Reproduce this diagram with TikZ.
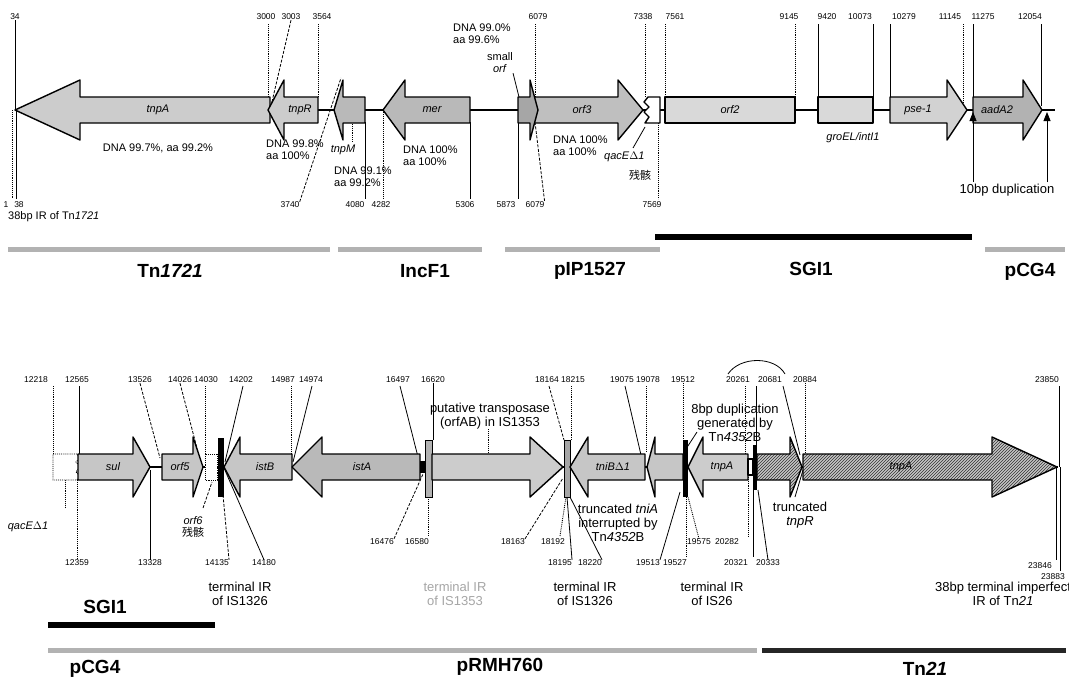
\documentclass[tikz,border=0pt]{standalone}
\usepackage{fontspec}
\setmainfont{Liberation Sans}
\newfontfamily\cjk{Noto Sans CJK SC}
\usetikzlibrary{patterns,arrows.meta}
\newcommand{\garrow}[5]{\draw[gene,#5] (#1,#4-13) -- (#2,#4-13) -- (#2,#4-30) -- (#3,#4) -- (#2,#4+30) -- (#2,#4+13) -- (#1,#4+13) -- cycle;}
\tikzset{
 num/.style={font=\fontsize{8.5}{9}\selectfont, inner sep=0pt},
 lbl/.style={font=\fontsize{11}{12}\selectfont, inner sep=0pt, align=left},
 gl/.style={font=\fontsize{11}{12}\selectfont\itshape, inner sep=0pt},
 mid/.style={font=\fontsize{13}{14}\selectfont, inner sep=0pt, align=center},
 big/.style={font=\fontsize{19}{21}\selectfont\bfseries, inner sep=0pt},
 gene/.style={draw=black, line width=1.4pt, line join=round},
 bb/.style={line width=2.5pt},
 sl/.style={line width=0.8pt},
 dl/.style={line width=0.9pt, densely dotted},
 dsh/.style={line width=0.8pt, dash pattern=on 3pt off 1.5pt},
 gbar/.style={line width=5pt, gray!60},
 tnpat/.style={preaction={fill=gray!45}, pattern=north east lines, pattern color=black!80},
}
\begin{document}
\begin{tikzpicture}[x=1pt,y=-1pt]
\useasboundingbox[fill=white] (0,0) rectangle (1069,680);

% ================= TOP ROW =================
\foreach \x/\t in {15/34, 266/3000, 291/3003, 322/3564, 538/6079, 643/7338, 675/7561, 789/9145, 827/9420, 860/10073, 904/10279, 950/11145, 983/11275, 1030/12054}
  \node[num] (t\t) at (\x,17) {\t};

\draw[sl] (t34.south) -- (15,110);
\draw[dl] (268,24) -- (268,98);
\draw[dsh] (t3003.south) -- (271,106);
\draw[dl] (318,24) -- (318,98);
\draw[dl] (535,24) -- (535,98);
\draw[dl] (645,24) -- (645,97);
\draw[dl] (665,24) -- (665,97);
\draw[dl] (795,24) -- (795,97);
\draw[sl] (818,24) -- (818,97);
\draw[sl] (873,24) -- (873,97);
\draw[sl] (890,24) -- (890,98);
\draw[dl] (963,24) -- (963,106);
\draw[sl] (973,24) -- (973,98);
\draw[sl] (1041,24) -- (1041,106);

% bottom numbers of top row
\node[num] (b1) at (6,205) {1};
\node[num] (b38) at (19,205) {38};
\node[num] (b3740) at (290,205) {3740};
\node[num] (b4080) at (355,205) {4080};
\node[num] (b4282) at (381,205) {4282};
\node[num] (b5306) at (465,205) {5306};
\node[num] (b5873) at (506,205) {5873};
\node[num] (b6079) at (535,205) {6079};
\node[num] (b7569) at (652,205) {7569};

\draw[dl] (12,110) -- (12,199);
\draw[sl] (16,110) -- (16,199);
\draw[dsh] (b3740.north east) -- (341,78);
\draw[sl] (365,122) -- (365,199);
\draw[dl] (383,112) -- (383,199);
\draw[sl] (470,122) -- (470,199);
\draw[sl] (518,122) -- (518,199);
\draw[dsh] (535,122) -- (b6079.north east);
\draw[dl] (658,123) -- (658,199);
\draw[dl] (352,122) -- (352,142);

% backbone and genes
\draw[bb] (15,110) -- (1055,110);
\garrow{270}{80}{15}{110}{fill=gray!40}
\garrow{318}{284}{268}{110}{fill=gray!40}
\garrow{365}{343}{334}{110}{fill=gray!55}
\garrow{470}{405}{383}{110}{fill=gray!55}
\garrow{532}{618}{643}{110}{fill=gray!50}
\garrow{518}{530}{538}{110}{fill=gray!70}
\draw[gene,fill=white] (660,97) -- (648,97) -- (644,102) -- (649,107) -- (644,112) -- (649,117) -- (645,123) -- (660,123) -- cycle;
\draw[gene,fill=gray!30] (665,97) rectangle (795,123);
\draw[gene,fill=gray!30] (818,97) rectangle (873,123);
\garrow{890}{947}{967}{110}{fill=gray!35}
\garrow{973}{1023}{1042}{110}{fill=gray!60}

\node[gl] (gtnpA) at (158,110) {tnpA};
\node[gl] (gtnpR) at (300,110) {tnpR};
\node[gl] (gmer) at (432,110) {mer};
\node[gl] (gorf3) at (582,110) {orf3};
\node[gl] (gorf2) at (730,110) {orf2};
\node[gl] (gpse) at (918,110) {pse-1};
\node[gl] (gaad) at (997,110) {aadA2};

% up arrows for 10bp duplication
\node[mid] (dup10) at (1007,190) {10bp duplication};
\draw[sl,-{Triangle[length=9pt,width=7pt]}] (973,182) -- (973,112);
\draw[sl,-{Triangle[length=9pt,width=7pt]}] (1047,182) -- (1047,112);

% labels top row
\node[lbl, anchor=west] (ir38) at (8,217) {38bp IR of Tn\textit{1721}};
\node[lbl] (d1) at (158,148) {DNA 99.7\%, aa 99.2\%};
\node[lbl, anchor=north west] (d2) at (266,140) {DNA 99.8\%\\aa 100\%};
\node[gl] (gtnpM) at (343,150) {tnpM};
\node[lbl, anchor=north west] (d3) at (334,167) {DNA 99.1\%\\aa 99.2\%};
\node[lbl, anchor=north west] (d4) at (403,146) {DNA 100\%\\aa 100\%};
\node[lbl, anchor=north west] (d5) at (453,24) {DNA 99.0\%\\aa 99.6\%};
\node[lbl, align=center] (sorf) at (500,63) {small\\\textit{orf}};
\draw[sl] (sorf.south east) -- (519,97);
\node[lbl, anchor=north west] (d6) at (553,136) {DNA 100\%\\aa 100\%};
\node[gl, anchor=west] (gqac) at (604,157) {qacE$\Delta$1};
\node[lbl] (rem1) at (640,175) {\cjk 残骸};
\draw[sl] (633,148) -- (645,127);
\node[gl] (ggro) at (853,138) {groEL/intI1};

% top bars
\draw[line width=6pt] (655,237) -- (972,237);
\draw[gbar] (8,249) -- (330,249);
\draw[gbar] (338,249) -- (482,249);
\draw[gbar] (505,249) -- (660,249);
\draw[gbar] (985,249) -- (1065,249);
\node[big] (nTn1721) at (170,271) {Tn\textit{1721}};
\node[big] (nIncF1) at (425,271) {IncF1};
\node[big] (npIP) at (590,271) {pIP1527};
\node[big] (nSGI1a) at (811,269) {SGI1};
\node[big] (npCG4a) at (1030,272) {pCG4};

% ================= BOTTOM ROW =================
\foreach \x/\t in {36/12218, 77/12565, 140/13526, 180/14026, 206/14030, 241/14202, 283/14987, 311/14974, 398/16497, 433/16620, 547/18164, 573/18215, 622/19075, 648/19078, 683/19512, 738/20261, 770/20681, 805/20884, 1047/23850}
  \node[num] (u\t) at (\x,380) {\t};

\draw[sl] (728,374) .. controls (740,356) and (775,356) .. (785,374);

\draw[dl] (53,386) -- (53,455);
\draw[sl] (79,386) -- (79,455);
\draw[dsh] (u13526.south) -- (160,458);
\draw[dsh] (u14026.south) -- (198,452);
\draw[dl] (205,386) -- (205,455);
\draw[sl] (243,386) -- (225,462);
\draw[dl] (291,386) -- (291,455);
\draw[sl] (312,386) -- (293,462);
\draw[sl] (400,386) -- (418,457);
\draw[sl] (u16620.south) -- (433,440);
\draw[dsh] (549,386) -- (564,440);
\draw[dl] (571,386) -- (571,440);
\draw[sl] (625,386) -- (641,455);
\draw[dl] (646,386) -- (646,452);
\draw[dl] (u19512.south) -- (683,440);
\draw[dl] (745,386) -- (745,455);
\draw[sl] (756,386) -- (756,445);
\draw[sl] (783,386) -- (800,455);
\draw[dl] (u20884.south) -- (805,455);
\draw[sl] (1059,386) -- (1059,467);

% bottom numbers
\foreach \x/\t in {382/16476, 417/16580, 513/18163, 553/18192, 699/19575, 727/20282}
  \node[num] (v\t) at (\x,542) {\t};
\foreach \x/\t in {77/12359, 150/13328, 217/14135, 264/14180, 560/18195, 590/18220, 648/19513, 675/19527, 736/20321, 768/20333}
  \node[num] (w\t) at (\x,563) {\t};
\node[num] (w23846) at (1040,566) {23846};
\node[num] (w23883) at (1053,577) {23883};

\draw[dl] (65,480) -- (65,507);
\draw[dl] (77,480) -- (w12359.north);
\draw[sl] (150,470) -- (w13328.north);
\draw[dsh] (223,495) -- (w14135.north east);
\draw[sl] (224,468) -- (w14180.north);
\draw[dsh] (v16476.north east) -- (423,474);
\draw[dl] (428,497) -- (428,536);
\draw[dsh] (v18163.north east) -- (563,478);
\draw[dl] (560,536) -- (566,497);
\draw[sl] (w18195.north east) -- (567,497);
\draw[sl] (w18220.north east) -- (569,495);
\draw[sl] (w19513.north east) -- (680,492);
\draw[dl] (686,497) -- (686,557);
\draw[dl] (v19575.north) -- (688,497);
\draw[dl] (748,475) -- (748,536);
\draw[sl] (753,490) -- (753,557);
\draw[sl] (w20333.north) -- (758,490);
\draw[sl] (1056,467) -- (1056,560);
\draw[sl] (1060,467) -- (1060,571);
\draw[dl] (488,429) -- (488,454);
\draw[sl] (697,432) -- (684,452);
\draw[sl] (795,497) -- (803,470);
\draw[dsh] (203,508) -- (212,482);

% backbone and genes
\draw[bb] (53,467) -- (1058,467);
\draw[dl, fill=white] (77,454) -- (53,454) -- (53,480) -- (77,480) -- (80,476) -- (76,472) -- (80,467) -- (76,462) -- (80,458) -- cycle;
\garrow{78}{133}{150}{467}{fill=gray!45}
\garrow{162}{193}{203}{467}{fill=gray!45}
\draw[dl, fill=white] (205,454) rectangle (217,480);
\fill (218,438) rectangle (224,497);
\garrow{292}{240}{224}{467}{fill=gray!45}
\garrow{420}{322}{292}{467}{fill=gray!55}
\fill (420,461) rectangle (426,473);
\draw[fill=gray!60] (425,440) rectangle (432,497);
\garrow{432}{530}{563}{467}{fill=gray!40}
\draw[fill=gray!70] (564,440) rectangle (570,497);
\garrow{645}{588}{570}{467}{fill=gray!45}
\garrow{683}{655}{647}{467}{fill=gray!45}
\fill (683,440) rectangle (688,497);
\garrow{748}{703}{688}{467}{fill=gray!40}
\draw[gene, fill=white] (748,459) rectangle (753,475);
\fill (753,445) rectangle (757,490);
\garrow{757}{790}{802}{467}{tnpat}
\garrow{803}{992}{1057}{467}{tnpat}

\node[gl] (gsul) at (113,467) {sul};
\node[gl] (gorf5) at (180,467) {orf5};
\node[gl] (gistB) at (265,467) {istB};
\node[gl] (gistA) at (362,467) {istA};
\node[gl] (gtniB) at (613,467) {tniB$\Delta$1};
\node[gl] (gtnpA2) at (722,467) {tnpA};
\node[gl] (gtnpA3) at (901,467) {tnpA};

% text labels bottom row
\node[gl] (gqac2) at (28,527) {qacE$\Delta$1};
\node[lbl, align=center] (orf6) at (193,527) {\textit{orf6}\\{\cjk 残骸}};
\node[mid] (put) at (490,416) {putative transposase\\(orfAB) in IS1353};
\node[mid] (trtni) at (618,523) {truncated \textit{tniA}\\interrupted by\\Tn\textit{4352}B};
\node[mid] (dup8) at (735,423) {8bp duplication\\generated by\\Tn\textit{4352}B};
\node[mid] (trtnp) at (800,515) {truncated\\\textit{tnpR}};
\node[mid] (ir1) at (240,594) {terminal IR\\of IS1326};
\node[mid, text=gray!70] (ir2) at (455,594) {terminal IR\\of IS1353};
\node[mid] (ir3) at (585,594) {terminal IR\\of IS1326};
\node[mid] (ir4) at (712,594) {terminal IR\\of IS26};
\node[mid] (ir5) at (1003,594) {38bp terminal imperfect\\IR of Tn\textit{21}};

% bottom bars
\node[big] (nSGI1b) at (105,607) {SGI1};
\draw[line width=6pt] (48,625) -- (215,625);
\draw[gbar] (48,650) -- (757,650);
\draw[line width=5pt, black!85] (762,650) -- (1066,650);
\node[big] (npCG4b) at (95,669) {pCG4};
\node[big] (npRMH) at (500,667) {pRMH760};
\node[big] (nTn21) at (925,669) {Tn\textit{21}};
\end{tikzpicture}
\end{document}
